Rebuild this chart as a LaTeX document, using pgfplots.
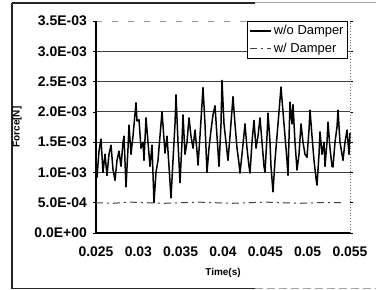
\documentclass[border=0pt]{standalone}
\usepackage{fontspec}
\setmainfont{Liberation Sans}
\usepackage{pgfplots}
\pgfplotsset{compat=1.18}
\usepackage{pgfplotstable}
\pgfplotstableread{
t v
0.025000 1.05
0.025118 0.92
0.025354 1.35
0.025591 1.55
0.025827 1.00
0.026063 1.30
0.026299 0.95
0.026535 1.30
0.026772 1.45
0.027008 1.05
0.027244 0.87
0.027480 1.20
0.027717 1.35
0.027953 1.10
0.028189 1.50
0.028307 1.60
0.028543 0.76
0.028780 1.40
0.028898 1.78
0.029134 1.30
0.029370 1.60
0.029724 2.15
0.029843 1.85
0.030079 1.87
0.030315 1.40
0.030551 1.50
0.030669 1.20
0.030906 1.90
0.031142 1.50
0.031378 1.10
0.031614 1.45
0.031850 0.50
0.032087 1.00
0.032323 1.20
0.032559 1.60
0.032795 2.00
0.033031 1.55
0.033150 1.32
0.033386 1.60
0.033622 1.10
0.033858 0.58
0.034094 1.20
0.034331 1.80
0.034449 2.28
0.034685 1.50
0.034921 0.83
0.035157 1.50
0.035276 1.95
0.035512 1.30
0.035748 1.50
0.035984 1.90
0.036220 1.60
0.036457 1.40
0.036693 1.70
0.036929 1.35
0.037047 1.12
0.037283 1.60
0.037638 2.40
0.037874 1.80
0.038110 1.00
0.038346 1.40
0.038583 1.70
0.038819 1.95
0.039055 2.10
0.039291 1.60
0.039528 1.10
0.039764 1.80
0.039882 2.52
0.040118 1.80
0.040354 1.50
0.040591 1.20
0.040827 1.60
0.041181 2.25
0.041417 1.80
0.041654 1.40
0.041890 1.15
0.042008 0.99
0.042244 1.30
0.042598 1.80
0.042835 1.40
0.043071 1.10
0.043189 0.99
0.043425 1.50
0.043661 1.86
0.043898 1.40
0.044134 1.60
0.044370 1.90
0.044606 1.50
0.044843 1.10
0.044961 1.00
0.045197 1.60
0.045315 1.98
0.045551 1.50
0.045669 1.10
0.045906 0.68
0.046142 1.20
0.046378 1.60
0.046614 2.00
0.046850 2.41
0.047087 2.00
0.047323 1.60
0.047559 1.20
0.047677 0.95
0.047913 2.16
0.048150 1.80
0.048268 2.12
0.048504 1.50
0.048740 1.04
0.048976 1.30
0.049213 1.80
0.049449 1.50
0.049685 1.30
0.049921 1.25
0.050157 1.70
0.050276 2.03
0.050512 1.60
0.050748 1.20
0.050984 0.90
0.051102 0.79
0.051339 1.30
0.051457 1.67
0.051693 1.30
0.051929 1.50
0.052047 1.10
0.052283 1.50
0.052402 1.83
0.052638 1.40
0.052874 1.10
0.052992 1.09
0.053228 1.50
0.053465 1.75
0.053583 2.03
0.053819 1.50
0.054055 1.30
0.054173 1.20
0.054409 1.50
0.054646 1.70
0.054882 1.30
0.055000 1.65
}\wodamper
\pgfplotstableread{
t v
0.0250 0.50
0.0270 0.49
0.0290 0.51
0.0310 0.50
0.0330 0.49
0.0350 0.50
0.0370 0.51
0.0390 0.50
0.0410 0.49
0.0430 0.50
0.0450 0.51
0.0470 0.50
0.0490 0.49
0.0510 0.50
0.0530 0.50
0.0540 0.50
}\wdamper
\begin{document}
\begin{tikzpicture}[x=1bp,y=1bp]
\useasboundingbox (0,0) rectangle (376,290);
% outer frame
\draw[line width=1.4bp, black!85] (12,287) -- (12,1.5);
\draw[line width=1.4bp, black!85] (12,287) -- (255,287);
\draw[line width=1.0bp, black!35] (255,287) -- (376,287);
\draw[line width=1.4bp, black!85] (12,1.5) -- (255,1.5);
\draw[line width=1.0bp, black!35, dash pattern=on 8bp off 4bp] (255,1.5) -- (376,1.5);
\begin{axis}[
  scale only axis,
  width=254bp, height=212bp,
  at={(96bp,57bp)}, anchor=south west,
  xmin=0.025, xmax=0.055, ymin=0, ymax=3.5,
  scaled x ticks=false, scaled y ticks=false,
  xtick={0.025,0.03,0.035,0.04,0.045,0.05,0.055},
  xticklabels={0.025,0.03,0.035,0.04,0.045,0.05,0.055},
  ytick={0,0.5,1,1.5,2,2.5,3,3.5},
  yticklabels={0.0E+00,5.0E-04,1.0E-03,1.5E-03,2.0E-03,2.5E-03,3.0E-03,3.5E-03},
  axis line style={draw=none},
  tick align=outside,
  major tick length=3bp,
  xtick style={draw=none},
  ytick style={draw=black, line width=0.7bp},
  tick label style={font=\bfseries\fontsize{14}{14}\selectfont},
  yticklabel style={anchor=east, inner sep=0pt, xshift=-6bp},
  xticklabel style={anchor=north, inner sep=0pt, yshift=-11bp},
  xlabel={Time(s)},
  ylabel={Force[N]},
  label style={font=\bfseries\fontsize{10}{10}\selectfont},
  xlabel style={at={(axis description cs:0.5,-0.189)}, anchor=center},
  ylabel style={at={(axis description cs:-0.311,0.5)}, anchor=center},
  legend style={at={(0.992,1)}, anchor=north east, draw=black, line width=0.8bp,
    font=\fontsize{13}{13}\selectfont, inner sep=2bp, row sep=3bp,
    legend cell align=left},
  legend image code/.code={\draw[#1] (0bp,0bp) -- (21bp,0bp);},
  clip=false,
]
\pgfplotsinvokeforeach{1,1.5,2,2.5,3}{
  \draw[black!75, line width=0.8bp] (axis cs:0.025,#1) -- (axis cs:0.055,#1);
}
\draw[black!40, line width=0.8bp, dash pattern=on 6bp off 10bp] (rel axis cs:0,1) -- (rel axis cs:1,1);
\draw[black!55, line width=0.8bp, dotted] (rel axis cs:1,0) -- (rel axis cs:1,1);
\draw[black, line width=1.1bp] (rel axis cs:0,1) -- (rel axis cs:0,0) -- (rel axis cs:1,0);
\addplot[black, line width=1.5bp, line join=round] table[x=t, y=v] {\wodamper};
\addlegendentry{w/o Damper}
\addplot[black!75, line width=1bp, dash pattern=on 7bp off 4bp on 2bp off 4bp] table[x=t, y=v] {\wdamper};
\addlegendentry{w/ Damper}
\end{axis}
\end{tikzpicture}
\end{document}
